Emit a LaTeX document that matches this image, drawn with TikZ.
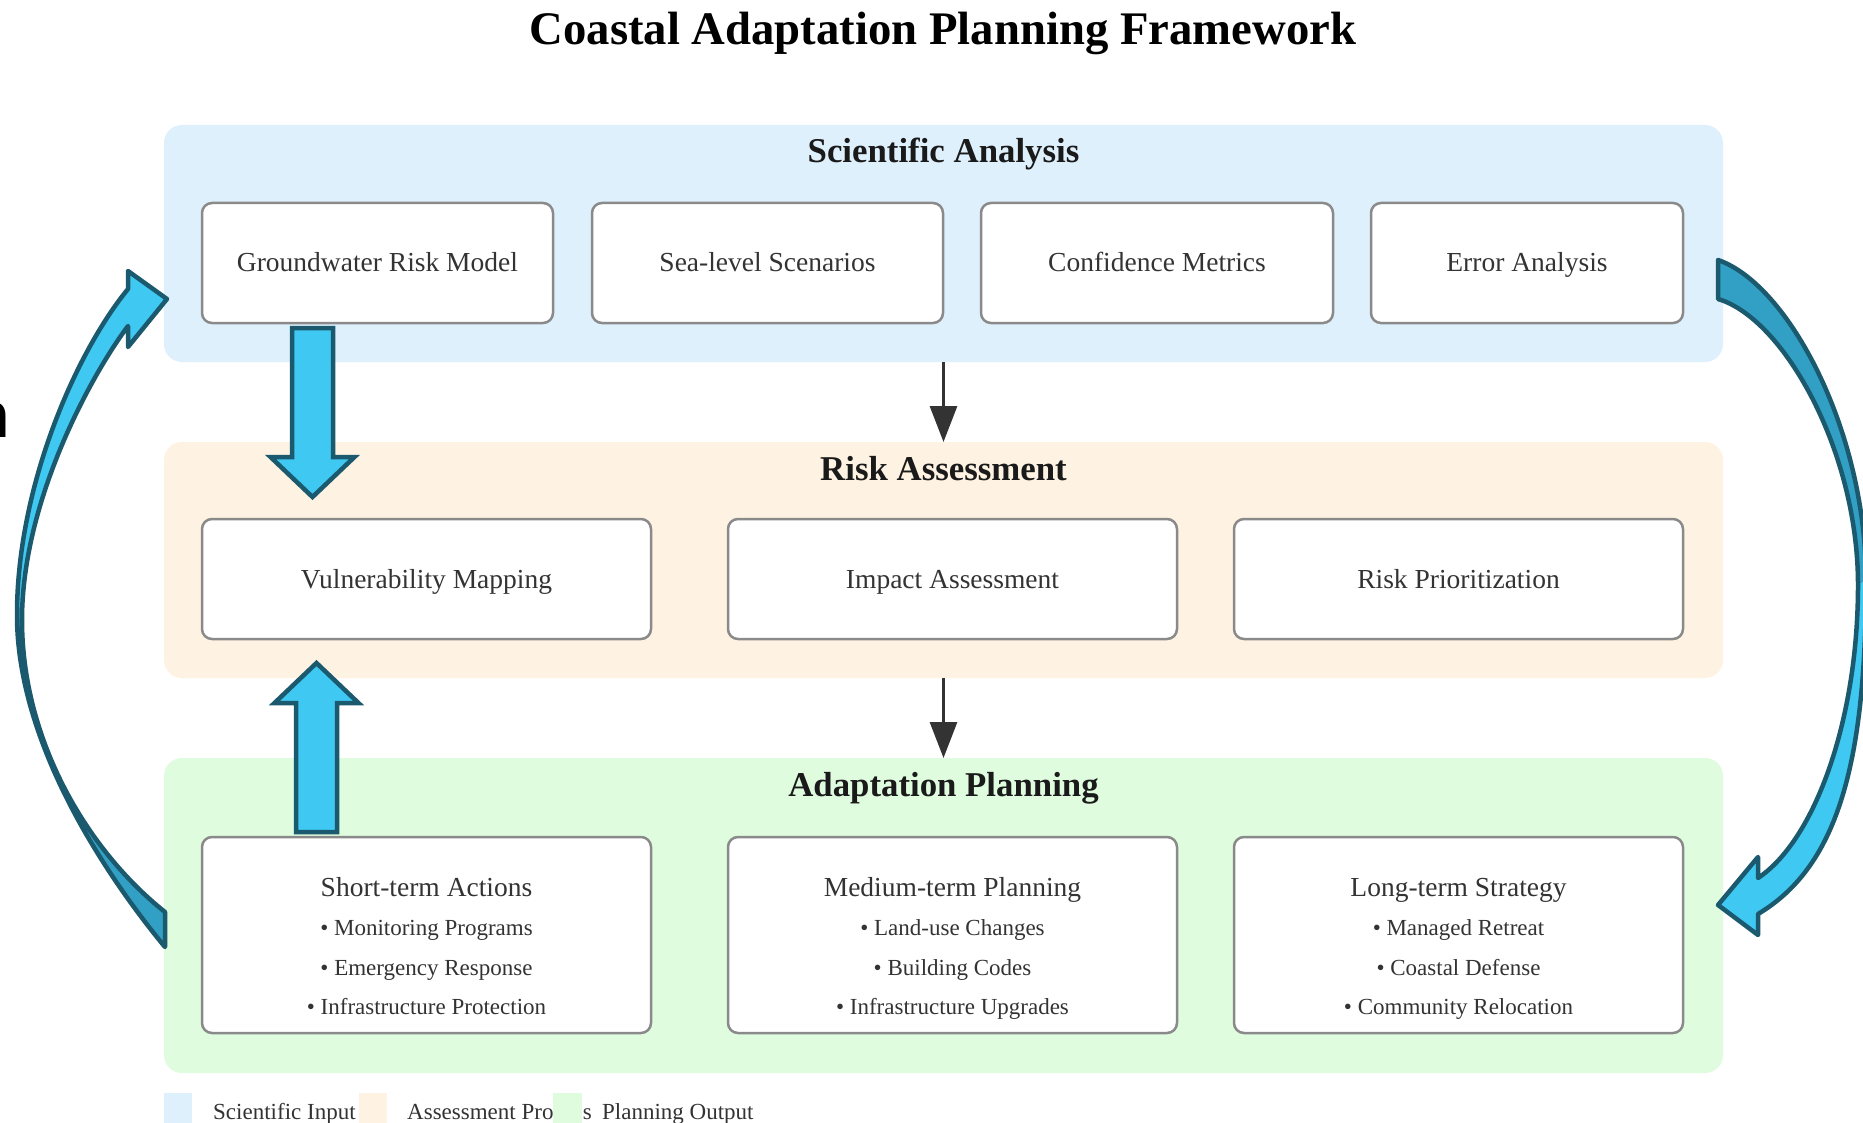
\documentclass[tikz,border=0pt]{standalone}
\usepackage{fontspec}
\setmainfont{Liberation Serif}
\newfontfamily\glyphfont{Carlito}
\usetikzlibrary{arrows.meta}

\definecolor{sciBg}{HTML}{DFF0FD}
\definecolor{riskBg}{HTML}{FEF2E2}
\definecolor{planBg}{HTML}{DFFCDF}
\definecolor{boxEdge}{HTML}{8A8A8A}
\definecolor{inkDark}{HTML}{333333}
\definecolor{inkTitle}{HTML}{1A1A1A}
\definecolor{flowLight}{HTML}{3FC8F2}
\definecolor{flowDark}{HTML}{32A0C5}
\definecolor{flowEdge}{HTML}{1B5A6E}

\tikzset{
  panel/.style={fill=#1, rounded corners=18pt, inner sep=0pt, outer sep=0pt},
  stepbox/.style={draw=boxEdge, fill=white, line width=2.5pt, rounded corners=10pt, inner sep=0pt},
  maintitle/.style={font=\bfseries\fontsize{46.7}{56}\selectfont, text=black, anchor=base, inner sep=0pt},
  paneltitle/.style={font=\bfseries\fontsize{34.8}{42}\selectfont, text=inkTitle, anchor=base, inner sep=0pt},
  boxtext/.style={font=\fontsize{27.5}{33}\selectfont, text=inkDark, anchor=base, inner sep=0pt},
  bullettext/.style={font=\fontsize{23}{28}\selectfont, text=inkDark, anchor=base, inner sep=0pt},
  legendtext/.style={font=\fontsize{23}{28}\selectfont, text=inkDark, anchor=base west, inner sep=0pt},
  thinarrow/.style={draw=inkDark, line width=3pt, -{Triangle[length=36pt,width=27pt]}},
  blockarrow/.style={fill=flowLight, draw=flowEdge, line width=4.5pt, line join=miter},
  flowline/.style={draw=flowEdge, line width=4.5pt, line join=round},
}

\begin{document}
\begin{tikzpicture}[x=1pt, y=-1pt]
\useasboundingbox (0,0) rectangle (1863,1123);
\fill[white] (0,0) rectangle (1863,1123);

% title
\node[maintitle] (title) at (943,45) {Coastal Adaptation Planning Framework};

% stage panels
\node[panel=sciBg, minimum width=1559pt, minimum height=237pt] (sci) at (943.5,243.5) {};
\node[panel=riskBg, minimum width=1559pt, minimum height=236pt] (risk) at (943.5,560) {};
\node[panel=planBg, minimum width=1559pt, minimum height=315pt] (plan) at (943.5,915.5) {};

\node[paneltitle] (sciT) at (943.5,163) {Scientific Analysis};
\node[paneltitle] (riskT) at (943.5,480) {Risk Assessment};
\node[paneltitle] (planT) at (943.5,796) {Adaptation Planning};

% scientific analysis boxes
\node[stepbox, minimum width=351pt, minimum height=120pt] (gw) at (377.5,263) {};
\node[stepbox, minimum width=351pt, minimum height=120pt] (sl) at (767.5,263) {};
\node[stepbox, minimum width=352pt, minimum height=120pt] (cm) at (1157,263) {};
\node[stepbox, minimum width=312pt, minimum height=120pt] (ea) at (1527,263) {};
\node[boxtext] (gwT) at (377.5,272) {Groundwater Risk Model};
\node[boxtext] (slT) at (767.5,272) {Sea-level Scenarios};
\node[boxtext] (cmT) at (1157,272) {Confidence Metrics};
\node[boxtext] (eaT) at (1527,272) {Error Analysis};

% risk assessment boxes
\node[stepbox, minimum width=449pt, minimum height=120pt] (vm) at (426.5,579) {};
\node[stepbox, minimum width=449pt, minimum height=120pt] (ia) at (952.5,579) {};
\node[stepbox, minimum width=449pt, minimum height=120pt] (rp) at (1458.5,579) {};
\node[boxtext] (vmT) at (426.5,588) {Vulnerability Mapping};
\node[boxtext] (iaT) at (952.5,588) {Impact Assessment};
\node[boxtext] (rpT) at (1458.5,588) {Risk Prioritization};

% adaptation planning boxes
\node[stepbox, minimum width=449pt, minimum height=196pt] (st) at (426.5,935) {};
\node[stepbox, minimum width=449pt, minimum height=196pt] (mt) at (952.5,935) {};
\node[stepbox, minimum width=449pt, minimum height=196pt] (lt) at (1458.5,935) {};

\node[boxtext] (stH) at (426.5,896) {Short-term Actions};
\node[bullettext] (st1) at (426.5,935) {• Monitoring Programs};
\node[bullettext] (st2) at (426.5,975) {• Emergency Response};
\node[bullettext] (st3) at (426.5,1014) {• Infrastructure Protection};

\node[boxtext] (mtH) at (952.5,896) {Medium-term Planning};
\node[bullettext] (mt1) at (952.5,935) {• Land-use Changes};
\node[bullettext] (mt2) at (952.5,975) {• Building Codes};
\node[bullettext] (mt3) at (952.5,1014) {• Infrastructure Upgrades};

\node[boxtext] (ltH) at (1458.5,896) {Long-term Strategy};
\node[bullettext] (lt1) at (1458.5,935) {• Managed Retreat};
\node[bullettext] (lt2) at (1458.5,975) {• Coastal Defense};
\node[bullettext] (lt3) at (1458.5,1014) {• Community Relocation};

% stage-to-stage flow
\draw[thinarrow] (sci.south) -- (risk.north);
\draw[thinarrow] (risk.south) -- (plan.north);

% block arrows between the left columns
\coordinate (downTop) at (312.5,328);
\coordinate (downTip) at (312.5,497);
\draw[blockarrow] (downTop) ++(-20.5,0) -- ++(0,129) -- ++(-21.5,0) -- (downTip)
  -- ++(42,-40) -- ++(-21.5,0) -- ++(0,-129) -- cycle;

\coordinate (upBase) at (316.5,832);
\coordinate (upTip) at (316.5,663);
\draw[blockarrow] (upBase) ++(-20.5,0) -- ++(0,-129) -- ++(-21.5,0) -- (upTip)
  -- ++(42,40) -- ++(-21.5,0) -- ++(0,129) -- cycle;

% feedback loop on the left: planning back to science
\fill[flowDark] (165,947) .. controls (108,878) and (17,745) .. (17,615)
  -- (22,620) .. controls (22,740) and (87,850) .. (165,912) -- cycle;
\fill[flowLight] (17,615) .. controls (17,485) and (77,351) .. (128,289)
  -- (128,271) -- (167,299) -- (128,347) -- (128,326)
  .. controls (92,374) and (22,500) .. (22,620) -- cycle;
\draw[flowline] (165,947) .. controls (108,878) and (17,745) .. (17,615)
  .. controls (17,485) and (77,351) .. (128,289)
  -- (128,271) -- (167,299) -- (128,347) -- (128,326)
  .. controls (92,374) and (22,500) .. (22,620)
  .. controls (22,740) and (87,850) .. (165,912) -- cycle;

% loop on the right: science down to planning
\fill[flowDark] (1718,260) .. controls (1788,284) and (1866,430) .. (1866,580)
  -- (1858,585) .. controls (1858,450) and (1783,318) .. (1718,299) -- cycle;
\fill[flowLight] (1866,580) .. controls (1866,770) and (1835,868) .. (1758,914)
  -- (1758,935) -- (1718,905) -- (1758,857) -- (1758,878)
  .. controls (1815,840) and (1858,720) .. (1858,585) -- cycle;
\draw[flowline] (1718,260) .. controls (1788,284) and (1866,430) .. (1866,580)
  .. controls (1866,770) and (1835,868) .. (1758,914)
  -- (1758,935) -- (1718,905) -- (1758,857) -- (1758,878)
  .. controls (1815,840) and (1858,720) .. (1858,585)
  .. controls (1858,450) and (1783,318) .. (1718,299) -- cycle;

% glyph at the left edge
\node[font=\glyphfont\fontsize{72}{86}\selectfont, anchor=base east, inner sep=0pt] (edgeglyph) at (11,437) {n};

% legend
\fill[sciBg] (164,1093) rectangle (192,1130);
\node[legendtext] (lgA) at (213,1119) {Scientific Input};
\fill[riskBg] (359,1093) rectangle (387,1130);
\node[legendtext] (lgB) at (407,1119) {Assessment Process};
\fill[planBg] (553,1093) rectangle (582,1130);
\node[legendtext] (lgC) at (602,1119) {Planning Output};
\end{tikzpicture}
\end{document}
